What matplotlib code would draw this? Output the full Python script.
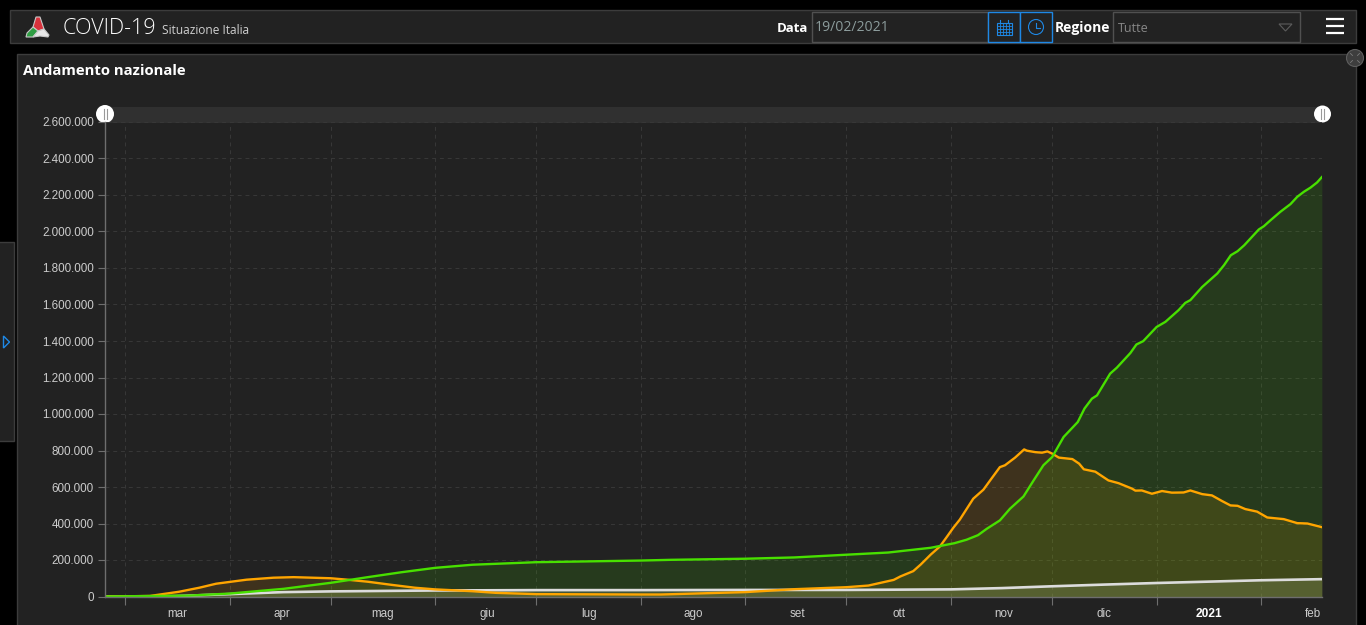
# plot.py
# COVID-19 Situazione Italia - dashboard "Andamento nazionale"

import pandas as pd
import matplotlib
matplotlib.use("Agg")
import matplotlib.pyplot as plt
from matplotlib.patches import Rectangle, Circle, Polygon
from matplotlib.ticker import FuncFormatter

# ---------------------------------------------------------
# DATA, days are counted from 1 March 2020, values in thousands
# ---------------------------------------------------------
green_days = [-6, 0, 19, 31, 47, 61, 72, 82, 92, 103, 122, 153, 162, 184, 198.5, 214, 226.4, 239,
              246, 249.6, 253, 255.6, 259.5, 262.5, 266.5, 269.5, 272.4, 275, 278.4, 282.6, 284.6, 286.8, 288.3,
              292.2, 294.2, 298.2, 300, 302, 306, 308.6, 312.5, 314.5, 316, 319.5, 324, 326, 328, 330,
              332, 336.3, 337.8, 339.8, 342.7, 345.7, 347.7, 349.7, 351.6, 353.6, 355]
green_vals = [0, 1, 5, 16, 42, 75, 106, 133, 157, 174, 188, 197, 201, 207, 214, 229, 241, 267,
              292, 311, 336, 371, 417, 481, 548, 636, 719, 764, 874, 956, 1030, 1084, 1102,
              1221, 1254, 1334, 1381, 1399, 1477, 1505, 1569, 1609, 1624, 1696, 1770, 1816, 1870, 1892,
              1925, 2011, 2029, 2062, 2108, 2150, 2190, 2218, 2240, 2269, 2298]

orange_days = [-6, 0, 7.4, 16, 22, 27, 36, 44, 50, 61, 66, 72, 79, 86, 92, 103, 110, 122, 153, 159,
               184, 198.5, 214, 220.5, 228, 230, 233.8, 236, 239, 241.7, 243.7, 245.7, 247.6, 251.6, 254.6, 257,
               259.5, 261, 264, 266.7, 267.5, 270, 272, 273.6, 275, 277, 281, 283, 284.4, 287.8, 291.7, 294.7,
               298.7, 299.7, 301.6, 304.6, 307.6, 310.5, 314, 316, 319.5, 322.4, 325.4, 327.9, 330, 332.3, 335.8, 338.8,
               343.7, 347.7, 350.7, 355]
orange_vals = [0, 1, 3, 26, 48, 70, 92, 103, 106, 100, 92, 81, 64, 48, 39, 29, 20, 13, 11, 11,
               24, 40, 51, 60, 91, 110, 139, 175, 230, 274, 325, 377, 421, 536, 585, 646,
               709, 719, 761, 806, 799, 791, 788, 795, 783, 761, 753, 728, 697, 684, 636, 621,
               591, 580, 581, 563, 578, 569, 570, 581, 561, 554, 523, 499, 497, 479, 465, 433,
               424, 402, 400, 380]

grey_days = [-6, 0, 15, 31, 47, 61, 92, 122, 153, 184, 214, 245, 260, 275, 290, 306, 337, 355]
grey_vals = [0, 0, 2, 13, 24, 28, 33, 35, 35, 36, 36, 39, 46, 56, 65, 74, 89, 95]

month_starts = ["2020-03-01", "2020-04-01", "2020-05-01", "2020-06-01", "2020-07-01", "2020-08-01",
                "2020-09-01", "2020-10-01", "2020-11-01", "2020-12-01", "2021-01-01", "2021-02-01"]
month_labels = ["mar", "apr", "mag", "giu", "lug", "ago", "set", "ott", "nov", "dic", "2021", "feb"]
y_ticks = list(range(0, 2600001, 200000))

BG = "#222222"
EDGE = "#3c3c3c"
BLUE = "#1e88e5"
TICK_FONT = "Liberation Sans"
UI_FONT = "Open Sans"

base = pd.Timestamp("2020-03-01")


def to_dates(days):
    return base + pd.to_timedelta(days, unit="D")


fig = plt.figure(figsize=(13.66, 6.25), dpi=100, facecolor="black")

# ---------------------------------------------------------
# PAGE FURNITURE, in pixel coordinates
# ---------------------------------------------------------
ui = fig.add_axes([0, 0, 1, 1], zorder=0)
ui.set_xlim(0, 1366)
ui.set_ylim(625, 0)
ui.axis("off")


def box(x0, y0, x1, y1, fc=BG, ec=EDGE, lw=1.0):
    ui.add_patch(Rectangle((x0, y0), x1 - x0, y1 - y0, fc=fc, ec=ec, lw=lw))


box(10, 10, 1356, 43)           # header
box(17, 54, 1356, 640)          # panel
box(-2, 242, 14, 441)           # side tab
ui.add_patch(Polygon([(3.5, 336), (3.5, 348), (9.5, 342)], closed=True, fc="none", ec=BLUE, lw=1.0))

# logo
ui.add_patch(Polygon([(36, 17), (40, 17), (44, 29), (38, 31), (33, 27)], closed=True, fc="#d8323c", ec="#c8c8c8", lw=0.8))
ui.add_patch(Polygon([(33, 27), (38, 31), (33, 37), (26, 37), (27, 33)], closed=True, fc="#2f9e44", ec="#c8c8c8", lw=0.8))
ui.add_patch(Polygon([(38, 31), (44, 29), (49, 35), (48, 37), (40, 36), (33, 37)], closed=True, fc="#e8e8e8", ec="#c8c8c8", lw=0.8))

ui.text(63, 28, "COVID-19", color="white", fontsize=15.5, family=UI_FONT, weight="light", va="center")
ui.text(162, 30.5, "Situazione Italia", color="#d0d0d0", fontsize=8.6, family=UI_FONT, va="center")
ui.text(23, 71, "Andamento nazionale", color="white", fontsize=10.7, family=UI_FONT, weight="bold", va="center")

# date and region controls
ui.text(808, 28, "Data", color="white", fontsize=9.5, family=UI_FONT, weight="bold", va="center", ha="right")
box(812, 12, 988, 42, ec="#505050")
ui.text(815, 27.5, "19/02/2021", color="#8c9c9c", fontsize=10.1, family=UI_FONT, va="center")
box(988, 12, 1020, 42, ec=BLUE, lw=1.0)
box(1020, 12, 1052, 42, ec=BLUE, lw=1.0)

# calendar icon
ui.add_patch(Rectangle((996.5, 22.5), 15, 12, fc="none", ec=BLUE, lw=0.8))
for gx in [999.5, 1002.5, 1005.5, 1008.5]:
    ui.plot([gx, gx], [24, 34], color=BLUE, lw=0.6)
for gy in [25.5, 28.5, 31.5]:
    ui.plot([997, 1011], [gy, gy], color=BLUE, lw=0.6)
ui.plot([1000, 1000], [20, 23], color=BLUE, lw=0.8)
ui.plot([1008, 1008], [20, 23], color=BLUE, lw=0.8)

# clock icon
ui.add_patch(Circle((1036, 27), 7.5, fc="none", ec=BLUE, lw=0.8))
ui.plot([1036, 1036, 1040], [22.5, 27.5, 27.5], color=BLUE, lw=0.8)

ui.text(1055, 28, "Regione", color="white", fontsize=10, family=UI_FONT, weight="bold", va="center")
box(1113, 12, 1300, 42, ec="#505050")
ui.text(1118, 28, "Tutte", color="#888888", fontsize=9, family=UI_FONT, va="center")
ui.add_patch(Polygon([(1279, 24), (1292, 24), (1285.5, 31)], closed=True, fc="none", ec="#5c5c5c", lw=0.8))

# menu icon
for my in [19, 26, 33]:
    ui.plot([1326, 1344], [my, my], color="white", lw=1.6, solid_capstyle="butt")

# collapse icon
ui.add_patch(Circle((1355, 58), 8.5, fc="#3e3e3e", ec="#5e5e5e", lw=0.8))
for sx in [-1, 1]:
    for sy in [-1, 1]:
        ui.plot([1355 + sx * 2.5, 1355 + sx * 4.5], [58 + sy * 2.5, 58 + sy * 4.5], color="#7c7c7c", lw=0.6)

# range slider above the chart
ui.add_patch(Rectangle((105, 107), 1217, 15.5, fc="#303030", ec="none"))
for hx, hw in [(105, 9.0), (1322.5, 8.5)]:
    ui.add_patch(Circle((hx, 114), hw, fc="white", ec="none", zorder=4))
    ui.plot([hx - 1.5, hx - 1.5], [109, 119], color="#999999", lw=0.8, zorder=5)
    ui.plot([hx + 1.5, hx + 1.5], [109, 119], color="#999999", lw=0.8, zorder=5)

# ---------------------------------------------------------
# CHART
# ---------------------------------------------------------
ax = fig.add_axes([105 / 1366, 1 - 596.5 / 625, (1321.5 - 105) / 1366, 474.5 / 625], zorder=1)
ax.set_facecolor("none")

series = [
    (grey_days, grey_vals, "#dcdcdc", 0.17, 1.9),
    (orange_days, orange_vals, "#ffa500", 0.13, 1.7),
    (green_days, green_vals, "#48e000", 0.13, 1.7),
]
for days, vals, color, alpha, width in series:
    xs = to_dates(days)
    ys = [v * 1000 for v in vals]
    ax.fill_between(xs, 0, ys, color=color, alpha=alpha, lw=0)
    ax.plot(xs, ys, color=color, lw=width, solid_joinstyle="round")

ax.set_xlim(to_dates(-5.95), to_dates(354.9))
ax.set_ylim(0, 2600000)

ax.set_yticks(y_ticks)
ax.yaxis.set_major_formatter(FuncFormatter(lambda v, pos: f"{v:,.0f}".replace(",", ".")))
ax.tick_params(axis="y", colors="#cccccc", labelsize=8.4, length=5, width=0.8, color="#6e6e6e", pad=3)

starts = pd.to_datetime(month_starts)
ax.set_xticks(starts)
ax.set_xticklabels([""] * len(starts))
ax.set_xticks(starts + pd.Timedelta(days=15.5), minor=True)
ax.set_xticklabels(month_labels, minor=True)
ax.tick_params(axis="x", which="major", length=6, width=0.8, color="#6e6e6e")
ax.tick_params(axis="x", which="minor", length=0, pad=8.5, labelsize=8.4, labelcolor="#cccccc")

for lab in ax.get_yticklabels() + ax.get_xticklabels(minor=True):
    lab.set_family(TICK_FONT)
for lab in ax.get_xticklabels(minor=True):
    if lab.get_text() == "2021":
        lab.set_color("white")
        lab.set_fontweight("bold")
        lab.set_fontsize(8.6)

ax.grid(axis="both", which="major", color="#383838", ls=(0, (4, 4)), lw=0.7)
ax.set_axisbelow(True)
for side in ["top", "right"]:
    ax.spines[side].set_visible(False)
for side in ["left", "bottom"]:
    ax.spines[side].set_color("#6e6e6e")
    ax.spines[side].set_linewidth(1.0)

plt.savefig("out.png", dpi=100, facecolor=fig.get_facecolor())
